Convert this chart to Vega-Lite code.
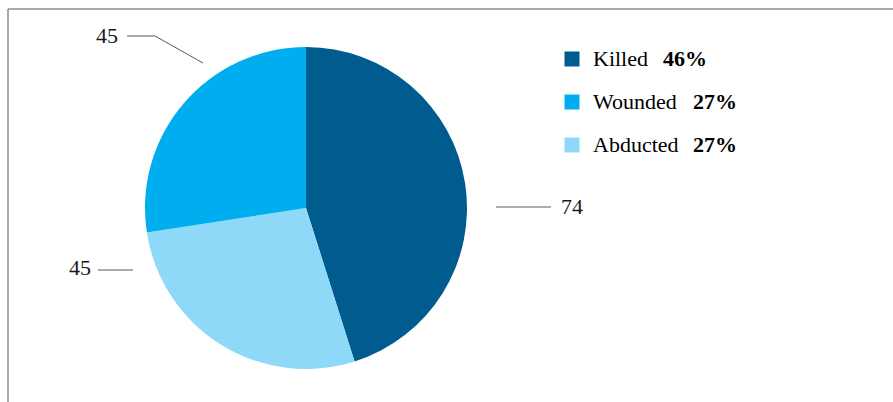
{
  "$schema": "https://vega.github.io/schema/vega-lite/v6.json",
  "width": 885,
  "height": 393,
  "autosize": {"type": "none"},
  "padding": {"left": 8, "top": 9, "right": 0, "bottom": 0},
  "background": "white",
  "config": {"view": {"stroke": null}, "text": {"font": "Liberation Serif"}, "mark": {"font": "Liberation Serif"}},
  "data": {"values": [
    {"category": "Killed", "count": 74, "share": 0.46},
    {"category": "Abducted", "count": 45, "share": 0.27},
    {"category": "Wounded", "count": 45, "share": 0.27}
  ]},
  "resolve": {"scale": {"y": "independent"}},
  "layer": [
    {
      "mark": {"type": "arc", "outerRadius": 161},
      "encoding": {
        "x": {"datum": 0, "type": "quantitative", "scale": {"domain": [-298, 587], "nice": false, "zero": false}, "axis": null},
        "y": {"datum": 0, "type": "quantitative", "scale": {"domain": [-194, 199], "nice": false, "zero": false}, "axis": null},
        "theta": {"field": "count", "type": "quantitative", "stack": true},
        "order": {"field": "count", "type": "quantitative", "sort": "descending"},
        "color": {"field": "category", "type": "nominal",
          "scale": {"domain": ["Killed", "Wounded", "Abducted"], "range": ["#005B8F", "#00AEEF", "#8ED8F8"]}, "legend": null}
      }
    },
    {
      "data": {"values": [{}]},
      "layer": [
        {"mark": {"type": "rule", "color": "#8c8c8c", "strokeWidth": 1.5},
         "encoding": {"x": {"datum": -298}, "x2": {"datum": 587}, "y": {"datum": 199, "scale": {"domain": [-194, 199], "nice": false, "zero": false}, "axis": null}}},
        {"mark": {"type": "rule", "color": "#8c8c8c", "strokeWidth": 1.5},
         "encoding": {"x": {"datum": -298}, "y": {"datum": 199, "scale": {"domain": [-194, 199], "nice": false, "zero": false}, "axis": null}, "y2": {"datum": -194}}},
        {"mark": {"type": "rule", "color": "#595959", "strokeWidth": 1},
         "encoding": {"x": {"datum": 190}, "x2": {"datum": 245}, "y": {"datum": 1, "scale": {"domain": [-194, 199], "nice": false, "zero": false}, "axis": null}}},
        {"mark": {"type": "rule", "color": "#595959", "strokeWidth": 1},
         "encoding": {"x": {"datum": -179}, "x2": {"datum": -151}, "y": {"datum": 172, "scale": {"domain": [-194, 199], "nice": false, "zero": false}, "axis": null}}},
        {"mark": {"type": "rule", "color": "#595959", "strokeWidth": 1},
         "encoding": {"x": {"datum": -151}, "x2": {"datum": -103}, "y": {"datum": 172, "scale": {"domain": [-194, 199], "nice": false, "zero": false}, "axis": null}, "y2": {"datum": 145}}},
        {"mark": {"type": "rule", "color": "#595959", "strokeWidth": 1},
         "encoding": {"x": {"datum": -208}, "x2": {"datum": -173}, "y": {"datum": -62, "scale": {"domain": [-194, 199], "nice": false, "zero": false}, "axis": null}}}
      ],
      "resolve": {"scale": {"y": "independent"}}
    },
    {
      "transform": [{"filter": "datum.category === 'Killed'"}],
      "mark": {"type": "text", "font": "Liberation Serif", "align": "left", "baseline": "middle", "fontSize": 22, "color": "#1a1a1a"},
      "encoding": {
        "x": {"datum": 255},
        "y": {"datum": 1, "scale": {"domain": [-194, 199], "nice": false, "zero": false}, "axis": null},
        "text": {"field": "count", "type": "quantitative"}
      }
    },
    {
      "transform": [{"filter": "datum.category === 'Wounded'"}],
      "mark": {"type": "text", "font": "Liberation Serif", "align": "right", "baseline": "middle", "fontSize": 22, "color": "#1a1a1a"},
      "encoding": {
        "x": {"datum": -188},
        "y": {"datum": 172, "scale": {"domain": [-194, 199], "nice": false, "zero": false}, "axis": null},
        "text": {"field": "count", "type": "quantitative"}
      }
    },
    {
      "transform": [{"filter": "datum.category === 'Abducted'"}],
      "mark": {"type": "text", "font": "Liberation Serif", "align": "right", "baseline": "middle", "fontSize": 22, "color": "#1a1a1a"},
      "encoding": {
        "x": {"datum": -215},
        "y": {"datum": -60, "scale": {"domain": [-194, 199], "nice": false, "zero": false}, "axis": null},
        "text": {"field": "count", "type": "quantitative"}
      }
    },
    {
      "mark": {"type": "point", "shape": "square", "filled": true, "size": 225, "opacity": 1, "strokeWidth": 0},
      "encoding": {
        "x": {"datum": 266},
        "y": {"field": "category", "type": "nominal", "scale": {"type": "point", "domain": ["Killed", "Wounded", "Abducted"], "range": [50, 136], "padding": 0}, "axis": null},
        "color": {"field": "category", "type": "nominal", "scale": {"domain": ["Killed", "Wounded", "Abducted"], "range": ["#005B8F", "#00AEEF", "#8ED8F8"]}, "legend": null}
      }
    },
    {
      "mark": {"type": "text", "font": "Liberation Serif", "align": "left", "baseline": "middle", "fontSize": 22, "color": "#000000"},
      "encoding": {
        "x": {"datum": 287},
        "y": {"field": "category", "type": "nominal", "scale": {"type": "point", "domain": ["Killed", "Wounded", "Abducted"], "range": [50, 136], "padding": 0}, "axis": null},
        "text": {"field": "category", "type": "nominal"}
      }
    },
    {
      "transform": [{"filter": "datum.category === 'Killed'"}],
      "mark": {"type": "text", "font": "Liberation Serif", "align": "left", "baseline": "middle", "fontSize": 22, "fontWeight": "bold", "color": "#000000"},
      "encoding": {
        "x": {"datum": 357},
        "y": {"field": "category", "type": "nominal", "scale": {"type": "point", "domain": ["Killed", "Wounded", "Abducted"], "range": [50, 136], "padding": 0}, "axis": null},
        "text": {"field": "share", "type": "quantitative", "format": ".0%"}
      }
    },
    {
      "transform": [{"filter": "datum.category !== 'Killed'"}],
      "mark": {"type": "text", "font": "Liberation Serif", "align": "left", "baseline": "middle", "fontSize": 22, "fontWeight": "bold", "color": "#000000"},
      "encoding": {
        "x": {"datum": 387},
        "y": {"field": "category", "type": "nominal", "scale": {"type": "point", "domain": ["Killed", "Wounded", "Abducted"], "range": [50, 136], "padding": 0}, "axis": null},
        "text": {"field": "share", "type": "quantitative", "format": ".0%"}
      }
    }
  ]
}
